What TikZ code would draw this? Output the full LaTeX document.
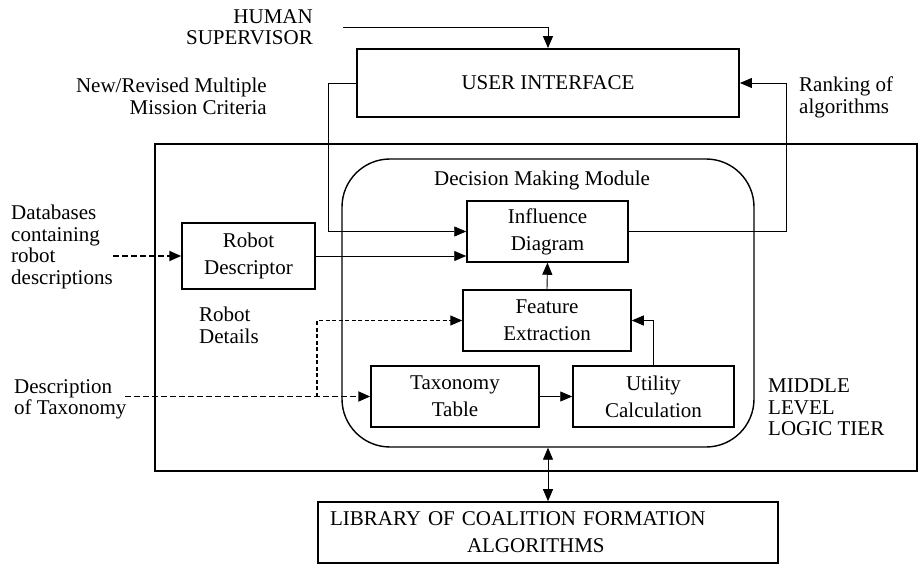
\documentclass[tikz,border=0pt]{standalone}
\usepackage{fontspec}
\setmainfont{Liberation Serif}
\usetikzlibrary{arrows.meta}
\begin{document}
\begin{tikzpicture}[x=1pt,y=-1pt,
  box/.style={draw, line width=1.5pt, inner sep=0pt, align=center, font=\fontsize{21}{27}\selectfont},
  lbl/.style={inner sep=0pt, font=\fontsize{21}{21.5}\selectfont},
  tip/.style={-{Triangle[length=12pt,width=10pt]}},
  conn/.style={line width=0.9pt, tip},
  dconn/.style={line width=1.9pt, dash pattern=on 6pt off 3pt, tip},
  dthin/.style={line width=1.2pt, dash pattern=on 4pt off 2.5pt, tip},
]
\useasboundingbox (0,0) rectangle (919,564);

% boxes
\node[box, line width=1.8pt, minimum width=382pt, minimum height=68pt] (ui) at (548,83) {USER INTERFACE};
\node[draw, line width=1.8pt, minimum width=762pt, minimum height=327pt, inner sep=0pt] (mid) at (536,307.5) {};
\node[draw, line width=1.4pt, rounded corners=48pt, minimum width=412pt, minimum height=288pt, inner sep=0pt] (dmm) at (548,303) {};
\node[box, minimum width=161pt, minimum height=61pt] (inf) at (547.5,231.5) {Influence\\Diagram};
\node[box, minimum width=168pt, minimum height=61pt] (fe) at (547,320.5) {Feature\\Extraction};
\node[box, minimum width=168pt, minimum height=61pt] (tx) at (455,396.5) {Taxonomy\\Table};
\node[box, minimum width=161pt, minimum height=61pt] (ut) at (653.5,396.5) {Utility\\Calculation};
\node[box, minimum width=133pt, minimum height=66pt] (rd) at (248.5,256) {Robot\\Descriptor};
\node[box, line width=1.6pt, align=left, text width=436pt, inner xsep=12pt, minimum height=61pt] (lib) at (548,532.5)
  {LIBRARY OF COALITION FORMATION\\\hspace*{137pt}ALGORITHMS};

% labels
\node[lbl, align=right, anchor=north east] (hsv) at (313,9) {HUMAN\\SUPERVISOR};
\node[lbl, align=right, anchor=north east] (crit) at (267,78) {New/Revised Multiple\\Mission Criteria};
\node[lbl, align=left, anchor=north west] (rank) at (799,77) {Ranking of\\algorithms};
\node[lbl, align=left, anchor=north west] (dbt) at (11,205) {Databases\\containing\\robot\\descriptions};
\node[lbl, align=left, anchor=north west] (rdt) at (199,307) {Robot\\Details};
\node[lbl, align=left, anchor=north west] (dtt) at (14,379) {Description\\of Taxonomy};
\node[lbl, align=left, anchor=north west] (mlt) at (768,379) {MIDDLE\\LEVEL\\LOGIC TIER};
\node[lbl, anchor=north] (dmt) at (542,171) {Decision Making Module};

% connectors
\coordinate (hs) at (343,27);
\draw[conn] (hs) -| (ui.north);
\draw[conn] (ui.west) -- ++(-28,0) |- (inf.west);
\draw[conn] (rd.east) -- (rd.east -| inf.west);
\draw[conn] (inf.east) -- ++(158,0) |- (ui.east);
\draw[conn] (fe.north) -- (inf.south);
\draw[conn] (ut.north) |- (fe.east);
\draw[conn] (tx.east) -- (ut.west);
\draw[conn, {Triangle[length=12pt,width=10pt]}-{Triangle[length=12pt,width=10pt]}] (dmm.south) -- (lib.north);

\coordinate (db) at (113,256);
\draw[dconn] (db) -- (rd.west);
\coordinate (dt) at (125,396.5);
\draw[dconn] (dt) -- (tx.west);
\coordinate (br) at (317,396.5);
\draw[dthin] (br) |- (fe.west);
\end{tikzpicture}
\end{document}
